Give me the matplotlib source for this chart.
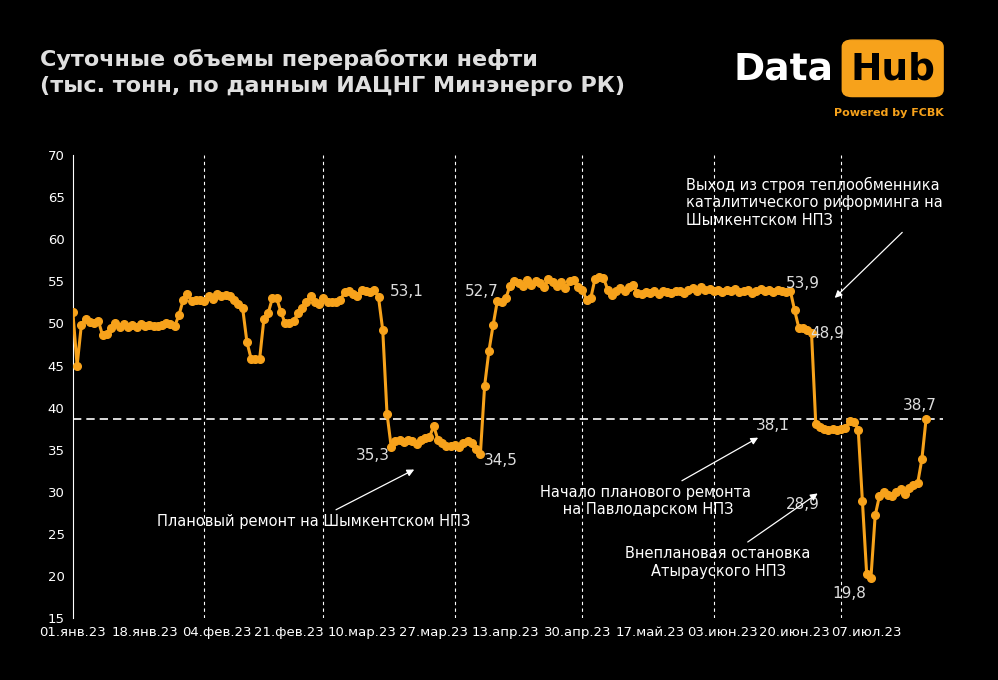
import numpy as np
import matplotlib
matplotlib.use("Agg")
import matplotlib.pyplot as plt
from matplotlib.patches import FancyBboxPatch

ORANGE = "#F7A21B"

# daily values from 01.01.2023
values = [
    51.3, 45.0, 49.8, 50.5, 50.2, 50.0, 50.3, 48.6, 48.8, 49.5,
    50.0, 49.6, 49.9, 49.6, 49.8, 49.6, 49.9, 49.7, 49.8, 49.7,
    49.7, 49.8, 50.0, 49.9, 49.7, 51.0, 52.8, 53.5, 52.7, 52.8,
    52.8, 52.7, 53.3, 52.9, 53.5, 53.3, 53.4, 53.2, 52.8, 52.3,
    51.8, 47.8, 45.8, 45.8, 45.8, 50.5, 51.2, 53.0, 53.0, 51.4,
    50.0, 50.1, 50.3, 51.2, 51.8, 52.5, 53.2, 52.6, 52.3, 53.0,
    52.5, 52.5, 52.5, 52.8, 53.7, 53.8, 53.5, 53.3, 54.0, 53.8,
    53.7, 54.0, 53.1, 49.2, 39.3, 35.3, 36.0, 36.2, 35.9, 36.1,
    36.0, 35.7, 36.2, 36.4, 36.5, 37.8, 36.2, 35.8, 35.5, 35.4,
    35.6, 35.3, 35.8, 36.0, 35.8, 35.1, 34.5, 42.6, 46.7, 49.8,
    52.7, 52.5, 53.0, 54.5, 55.0, 54.8, 54.5, 55.2, 54.6, 55.0,
    54.8, 54.3, 55.3, 54.9, 54.5, 54.9, 54.2, 55.0, 55.2, 54.3,
    54.0, 52.8, 53.0, 55.3, 55.5, 55.4, 54.0, 53.4, 53.8, 54.2,
    53.8, 54.3, 54.6, 53.6, 53.5, 53.7, 53.6, 53.8, 53.5, 53.9,
    53.7, 53.6, 53.9, 53.8, 53.6, 54.0, 54.2, 53.9, 54.3, 54.0,
    54.1, 53.8, 54.0, 53.7, 54.0, 53.8, 54.1, 53.7, 53.9, 54.0,
    53.6, 53.9, 54.1, 53.8, 54.0, 53.7, 54.0, 53.8, 53.7, 53.9,
    51.6, 49.5, 49.4, 49.2, 48.9, 38.1, 37.7, 37.5, 37.4, 37.5,
    37.3, 37.5, 37.6, 38.4, 38.3, 37.4, 28.9, 20.2, 19.8,
    27.2, 29.5, 30.0, 29.6, 29.5, 30.0, 30.3, 29.8, 30.4, 30.8,
    31.0, 33.9, 38.7,
]
tick_labels = ["01.янв.23", "18.янв.23", "04.фев.23", "21.фев.23", "10.мар.23",
               "27.мар.23", "13.апр.23", "30.апр.23", "17.май.23", "03.июн.23",
               "20.июн.23", "07.июл.23"]
month_starts = [31, 59, 90, 120, 151, 181]
ref_level = 38.7
# (text, x, y, ha) for the value callouts
value_labels = [("53,1", 74.6, 53.8, "left"), ("35,3", 74.6, 34.3, "right"),
                ("34,5", 96.8, 33.7, "left"), ("52,7", 96.4, 53.8, "center"),
                ("53,9", 168.0, 54.8, "left"), ("48,9", 173.8, 48.8, "left"),
                ("38,1", 164.8, 37.9, "center"), ("28,9", 172.0, 28.5, "center"),
                ("19,8", 183.0, 17.9, "center"), ("38,7", 199.6, 40.3, "center")]

x = np.arange(len(values))

fig = plt.figure(figsize=(9.98, 6.8), dpi=100, facecolor="black")
ax = fig.add_axes([0.073, 0.091, 0.872, 0.681], facecolor="black")
ax.plot(x, values, color=ORANGE, lw=2.2, marker="o", ms=5.5, zorder=3)
for m in month_starts:
    ax.axvline(m, color="white", ls=(0, (3, 3)), lw=0.8, zorder=1)
ax.axhline(ref_level, color="white", ls=(0, (5, 3)), lw=1.2, zorder=2)

ax.set_ylim(15, 70)
ax.set_yticks(range(15, 71, 5))
ax.set_xlim(0, 205)
ax.set_xticks(np.arange(len(tick_labels)) * 17)
ax.set_xticklabels(tick_labels)
ax.tick_params(colors="white", labelsize=9.5, length=0, pad=6)
for s in ["top", "right", "bottom"]:
    ax.spines[s].set_visible(False)
ax.spines["left"].set_color("white")

for t, tx, ty, ha in value_labels:
    ax.text(tx, ty, t, color="#DDDDDD", fontsize=11, ha=ha, va="center")

arrow = dict(arrowstyle="-|>", color="white", lw=0.9)
ax.annotate("Плановый ремонт на Шымкентском НПЗ", xy=(81, 32.8), xytext=(56.7, 26.5),
            color="white", fontsize=10.5, ha="center", va="center", arrowprops=arrow)
ax.annotate("Начало планового ремонта\n на Павлодарском НПЗ", xy=(162, 36.6), xytext=(135, 28.9),
            color="white", fontsize=10.5, ha="center", va="center", arrowprops=arrow)
ax.annotate("Внеплановая остановка\nАтырауского НПЗ", xy=(176, 30.0), xytext=(152, 21.6),
            color="white", fontsize=10.5, ha="center", va="center", arrowprops=arrow)
ax.annotate("Выход из строя теплообменника\nкаталитического риформинга на\nШымкентском НПЗ",
            xy=(179, 52.8), xytext=(144.5, 64.4), color="white", fontsize=10.5,
            ha="left", va="center",
            arrowprops=dict(arrowstyle="-|>", color="white", lw=0.9,
                            relpos=(0.86, 0.0)))

fig.text(0.04, 0.893, "Суточные объемы переработки нефти\n(тыс. тонн, по данным ИАЦНГ Минэнерго РК)",
         color="white", fontsize=16, fontweight="bold", va="center", ha="left",
         linespacing=1.35, alpha=0.88)
fig.text(0.735, 0.898, "Data", color="white", fontsize=27, fontweight="bold", va="center")
fig.patches.append(FancyBboxPatch((0.848, 0.862), 0.093, 0.075, boxstyle="round,pad=0.004,rounding_size=0.01",
                                  transform=fig.transFigure, color=ORANGE))
fig.text(0.8945, 0.898, "Hub", color="black", fontsize=27, fontweight="bold", va="center", ha="center")
fig.text(0.946, 0.834, "Powered by FCBK", color=ORANGE, fontsize=8, fontweight="bold", ha="right", va="center")

fig.savefig("out.png", facecolor="black")
